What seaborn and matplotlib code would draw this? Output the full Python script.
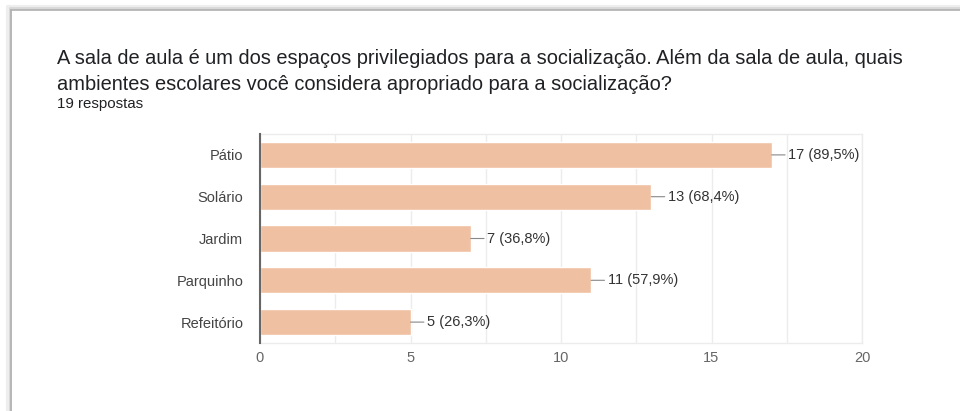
import matplotlib
matplotlib.use("Agg")
import matplotlib.pyplot as plt
import seaborn as sns
import pandas as pd
from matplotlib.lines import Line2D
from matplotlib.ticker import MultipleLocator

categories = ["Pátio", "Solário", "Jardim", "Parquinho", "Refeitório"]
counts = [17, 13, 7, 11, 5]
percents = ["89,5%", "68,4%", "36,8%", "57,9%", "26,3%"]
x_ticks = [0, 5, 10, 15, 20]
title_lines = ["A sala de aula é um dos espaços privilegiados para a socialização. Além da sala de aula, quais",
               "ambientes escolares você considera apropriado para a socialização?"]
subtitle = "19 respostas"

df = pd.DataFrame({"ambiente": categories, "n": counts})

sns.set_theme(style="white")
plt.rcParams["font.family"] = ["Liberation Sans", "DejaVu Sans"]

fig = plt.figure(figsize=(9.6, 4.11), dpi=100)
ax = fig.add_axes([260/960, 1-343/411, (862-260)/960, (343-134)/411])

sns.barplot(data=df, y="ambiente", x="n", orient="h", color="#efc1a2",
            saturation=1, width=0.63, ax=ax, zorder=2)

ax.set_xlim(0, 20)
ax.set_ylim(4.5, -0.5)
ax.xaxis.set_minor_locator(MultipleLocator(2.5))
ax.set_xticks(x_ticks)
ax.grid(True, axis="x", which="both", color="#ececec", linewidth=1, zorder=0)
ax.set_axisbelow(True)
ax.set_xlabel("")
ax.set_ylabel("")
for s in ["top", "right", "bottom"]:
    ax.spines[s].set_color("#ececec")
    ax.spines[s].set_linewidth(1)
ax.spines["left"].set_color("#666666")
ax.spines["left"].set_linewidth(1.5)
ax.spines["left"].set_zorder(3)
ax.tick_params(axis="both", which="both", length=0, labelsize=10.5, colors="#444444")
ax.tick_params(axis="y", pad=12)
ax.tick_params(axis="x", pad=6, labelcolor="#666666")

for i, (c, p) in enumerate(zip(counts, percents)):
    ax.annotate(f"{c} ({p})", xy=(c, i), xytext=(12, 0), textcoords="offset points",
                va="center", ha="left", fontsize=10.5, color="#333333",
                arrowprops=dict(arrowstyle="-", color="#888888", lw=0.8,
                                shrinkA=0, shrinkB=0))

fig.text(57/960, 1-58/411, title_lines[0], fontsize=14.4, color="#202124",
         va="center", ha="left")
fig.text(57/960, 1-84/411, title_lines[1], fontsize=14.4, color="#202124",
         va="center", ha="left")
fig.text(57/960, 1-104/411, subtitle, fontsize=10.8, color="#202124",
         va="center", ha="left")

# card border with slight shadow
for off, col, lw in [(3, "#eeeeee", 3), (1.5, "#d8d8d8", 2), (0, "#b0b0b0", 1.2)]:
    fig.add_artist(Line2D([(11 - off)/960, (11 - off)/960], [0, 1-(10 - off)/411],
                          color=col, lw=lw, transform=fig.transFigure))
    fig.add_artist(Line2D([(11 - off)/960, 1], [1-(10 - off)/411, 1-(10 - off)/411],
                          color=col, lw=lw, transform=fig.transFigure))

fig.savefig("out.png", dpi=100)
